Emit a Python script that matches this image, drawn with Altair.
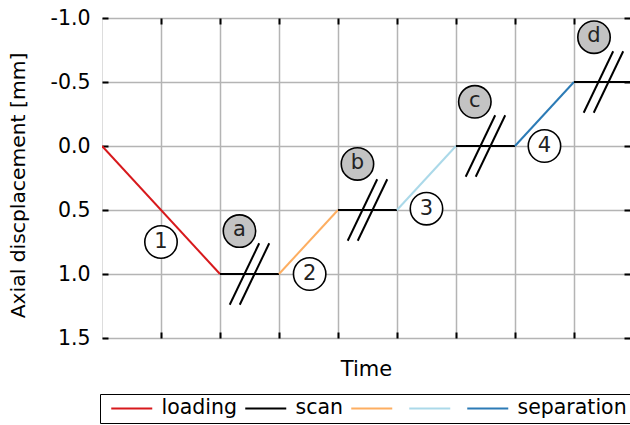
import altair as alt
import pandas as pd

# Displacement path: time (grid units) and axial displacement [mm] at each corner
time_pts = [0, 2, 3, 4, 5, 6, 7, 8, 9]
disp_pts = [0.0, 1.0, 1.0, 0.5, 0.5, 0.0, 0.0, -0.5, -0.5]
segment_phase = ["loading", "scan", "unload 2", "scan", "unload 3", "scan", "separation", "scan"]

phase_names = ["loading", "scan", "unload 2", "unload 3", "separation"]
phase_colors = ["#d7191c", "#000000", "#fdae61", "#abd9e9", "#2c7bb6"]

# Scan breaks ("//") on each hold
break_x = [2.5, 4.5, 6.5, 8.5]
break_y = [1.0, 0.5, 0.0, -0.5]

# Lettered scan markers
scan_lbl = ["a", "b", "c", "d"]
scan_lbl_x = [2.33, 4.33, 6.32, 8.34]
scan_lbl_y = [0.665, 0.14, -0.345, -0.85]

# Numbered step markers
step_lbl = ["1", "2", "3", "4"]
step_lbl_x = [1.0, 3.52, 5.5, 7.5]
step_lbl_y = [0.75, 1.0, 0.49, 0.0]

y_ticks = [-1.0, -0.5, 0.0, 0.5, 1.0, 1.5]
x_ticks = [1, 2, 3, 4, 5, 6, 7, 8]

FONT = "DejaVu Sans"

rows = []
for i, ph in enumerate(segment_phase):
    for j in (i, i + 1):
        rows.append({"seg": i, "phase": ph, "t": time_pts[j], "d": disp_pts[j]})
path_df = pd.DataFrame(rows)

slash_rows = []
for bx, by in zip(break_x, break_y):
    for off in (-0.085, 0.085):
        slash_rows.append({"x1": bx + off - 0.25, "y1": by + 0.24,
                           "x2": bx + off + 0.25, "y2": by - 0.24})
slash_df = pd.DataFrame(slash_rows)

scan_df = pd.DataFrame({"lbl": scan_lbl, "x": scan_lbl_x, "y": scan_lbl_y})
step_df = pd.DataFrame({"lbl": step_lbl, "x": step_lbl_x, "y": step_lbl_y})

xs = alt.Scale(domain=[0, 8.95], nice=False, zero=False)
ys = alt.Scale(domain=[-1.0, 1.5], nice=False, zero=False, reverse=True)

# the two unloading colours carry no text of their own in the key
GAP = "\u00a0\u00a0\u00a0\u00a0"
label_expr = (f"datum.label == 'loading' ? 'loading{GAP}' : "
              f"datum.label == 'scan' ? 'scan{GAP}' : "
              "indexof(datum.label, 'unload') == 0 ? '' : datum.label")

path = alt.Chart(path_df).mark_line(strokeWidth=2, clip=True).encode(
    x=alt.X("t:Q", scale=xs, axis=alt.Axis(
        values=x_ticks, labels=False, domain=False, offset=-6, tickSize=6,
        tickColor="black", tickWidth=2, grid=True, gridColor="#b4b4b4", gridWidth=1.5,
        title="Time", titleFontSize=21, titleFontWeight="normal", titleColor="black",
        titlePadding=19, titleFont=FONT)),
    y=alt.Y("d:Q", scale=ys, axis=alt.Axis(
        values=y_ticks, domain=False, offset=-6, tickSize=6, tickColor="black",
        tickWidth=2, grid=True, gridColor="#b4b4b4", gridWidth=1.5,
        labelExpr="replace(format(datum.value, '.1f'), '\u2212', '-')",
        labelFontSize=20.5, labelColor="black", labelPadding=12, labelFont=FONT,
        title="Axial discplacement [mm]", titleFontSize=20.3, titleFontWeight="normal",
        titleColor="black", titlePadding=22, titleFont=FONT, titleY=167)),
    color=alt.Color("phase:N", scale=alt.Scale(domain=phase_names, range=phase_colors),
                    sort=phase_names,
                    legend=alt.Legend(title=None, orient="none", legendX=-2, legendY=376,
                                      direction="horizontal", symbolType="M-0.375,0H4.75",
                                      symbolSize=256, symbolStrokeWidth=2,
                                      labelFontSize=20.5, labelFont=FONT, labelColor="black",
                                      labelOffset=37, columnPadding=-15, padding=4,
                                      strokeColor="black", labelExpr=label_expr)),
    detail="seg:N",
    order="t:Q",
)

slashes = alt.Chart(slash_df).mark_rule(color="black", strokeWidth=2).encode(
    x=alt.X("x1:Q", scale=xs, axis=alt.Axis(
        orient="top", values=x_ticks, labels=False, domain=False, grid=False,
        offset=-6, tickSize=6, tickColor="black", tickWidth=2, title=None)),
    x2="x2:Q",
    y=alt.Y("y1:Q", scale=ys, axis=alt.Axis(
        orient="right", values=y_ticks, labels=False, domain=False, grid=False,
        offset=-6, tickSize=6, tickColor="black", tickWidth=2, title=None)),
    y2="y2:Q",
)

scan_pts = alt.Chart(scan_df).mark_point(
    shape="circle", filled=True, fill="#c3c3c3", stroke="black", strokeWidth=1.6,
    size=1050, opacity=1).encode(
    x=alt.X("x:Q", scale=xs, axis=None), y=alt.Y("y:Q", scale=ys, axis=None))
scan_txt = alt.Chart(scan_df).mark_text(
    fontSize=21, font=FONT, color="#222222", baseline="middle", dy=-1).encode(
    x=alt.X("x:Q", scale=xs, axis=None), y=alt.Y("y:Q", scale=ys, axis=None), text="lbl:N")

step_pts = alt.Chart(step_df).mark_point(
    shape="circle", filled=True, fill="white", stroke="black", strokeWidth=1.6,
    size=1050, opacity=1).encode(
    x=alt.X("x:Q", scale=xs, axis=None), y=alt.Y("y:Q", scale=ys, axis=None))
step_txt = alt.Chart(step_df).mark_text(
    fontSize=21, font=FONT, color="#222222", baseline="middle", dy=0).encode(
    x=alt.X("x:Q", scale=xs, axis=None), y=alt.Y("y:Q", scale=ys, axis=None), text="lbl:N")

chart = alt.layer(path, slashes, scan_pts, scan_txt, step_pts, step_txt).resolve_axis(
    x="independent", y="independent"
).properties(
    width=528, height=320,
    autosize=alt.AutoSizeParams(type="none"),
    padding={"left": 102, "top": 18, "right": 0, "bottom": 87},
).configure_view(
    stroke="black", strokeWidth=2
).configure(
    font=FONT, background="white"
)

chart.save("out.html", embed_options={"renderer": "svg", "actions": False})
